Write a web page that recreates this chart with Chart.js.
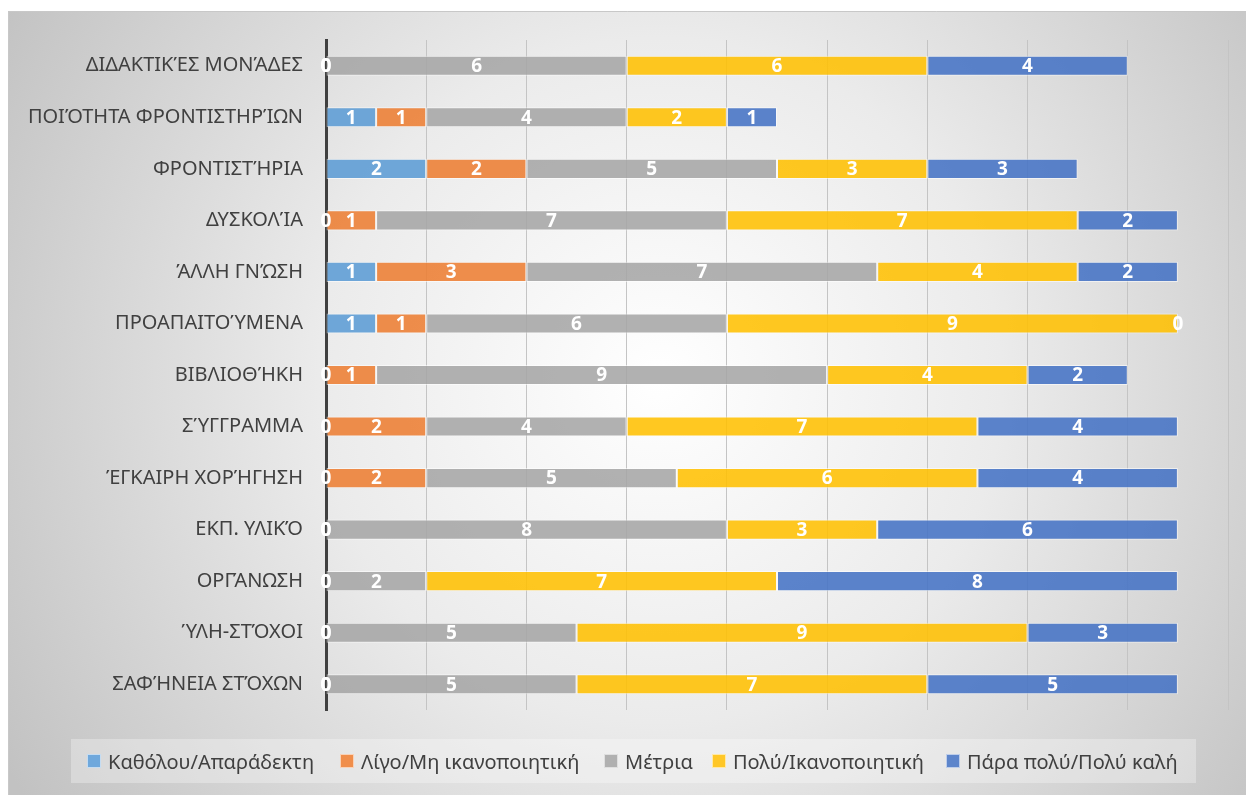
<!DOCTYPE html>
<html><head><meta charset="utf-8">
<script src="https://cdn.jsdelivr.net/npm/chart.js@4.4.1/dist/chart.umd.min.js"></script>
<style>
html,body{margin:0;padding:0;background:#fff;}
#wrap{position:relative;width:1246px;height:795px;overflow:hidden;}
#legend{position:absolute;left:71px;top:739px;width:1125px;height:44px;background:rgba(255,255,255,0.3);font-family:'Noto Sans';font-size:20px;color:#404040;white-space:nowrap}
.item{position:absolute;top:0;height:44px;display:flex;align-items:center}
.sw{width:12px;height:12px;margin-right:7px;border:1px solid rgba(255,255,255,0.6)}
</style></head>
<body><div id="wrap"><canvas id="c" width="1246" height="795"></canvas><div id="legend"></div></div>
<script>
const categories = ["ΔΙΔΑΚΤΙΚΈΣ ΜΟΝΆΔΕΣ","ΠΟΙΌΤΗΤΑ ΦΡΟΝΤΙΣΤΗΡΊΩΝ","ΦΡΟΝΤΙΣΤΉΡΙΑ","ΔΥΣΚΟΛΊΑ","ΆΛΛΗ ΓΝΏΣΗ","ΠΡΟΑΠΑΙΤΟΎΜΕΝΑ","ΒΙΒΛΙΟΘΉΚΗ","ΣΎΓΓΡΑΜΜΑ","ΈΓΚΑΙΡΗ ΧΟΡΉΓΗΣΗ","ΕΚΠ. ΥΛΙΚΌ","ΟΡΓΆΝΩΣΗ","ΎΛΗ-ΣΤΌΧΟΙ","ΣΑΦΉΝΕΙΑ ΣΤΌΧΩΝ"];
const seriesNames = ["Καθόλου/Απαράδεκτη","Λίγο/Μη ικανοποιητική","Μέτρια","Πολύ/Ικανοποιητική","Πάρα πολύ/Πολύ καλή"];
const katholou  = [0,1,2,0,1,1,0,0,0,0,0,0,0];
const ligo      = [0,1,2,1,3,1,1,2,2,0,0,0,0];
const metria    = [6,4,5,7,7,6,9,4,5,8,2,5,5];
const poly      = [6,2,3,7,4,9,4,7,6,3,7,9,7];
const parapoly  = [4,1,3,2,2,0,2,4,4,6,8,3,5];
const seriesColors = ["rgba(91,155,213,0.87)","rgba(237,125,49,0.87)","rgba(165,165,165,0.87)","rgba(255,192,0,0.87)","rgba(68,114,196,0.87)"];
const legendColors = ["#6fa8dc","#f08e4b","#b0b0b0","#ffc727","#5d85cb"];
const legendOffsets = [16, 269, 533, 641, 875];
const xMax = 18, xStep = 2;

const allSeries = [katholou, ligo, metria, poly, parapoly];

const bgPlugin = {
  id:'bg',
  beforeDraw(chart){
    const ctx = chart.ctx;
    ctx.save();
    ctx.fillStyle = '#ffffff';
    ctx.fillRect(0,0,chart.width,chart.height);
    const g = ctx.createRadialGradient(660,380,0,660,380,760);
    g.addColorStop(0,'#ffffff');
    g.addColorStop(0.45,'#ebebeb');
    g.addColorStop(1,'#c2c2c2');
    ctx.fillStyle = g;
    ctx.fillRect(8,11,chart.width-8,chart.height-11);
    ctx.strokeStyle = '#c8c8c8';
    ctx.lineWidth = 1;
    ctx.beginPath();
    ctx.moveTo(8.5,chart.height); ctx.lineTo(8.5,11.5); ctx.lineTo(chart.width,11.5);
    ctx.stroke();
    ctx.restore();
  }
};

const labelPlugin = {
  id:'vlabels',
  afterDatasetsDraw(chart){
    const ctx = chart.ctx;
    ctx.save();
    ctx.font = 'bold 19px "Noto Sans"';
    ctx.fillStyle = '#ffffff';
    ctx.textAlign = 'center';
    ctx.textBaseline = 'middle';
    chart.data.datasets.forEach((ds, di) => {
      const meta = chart.getDatasetMeta(di);
      meta.data.forEach((el, i) => {
        const v = ds.data[i];
        const cx = (el.x + el.base) / 2;
        ctx.fillText(String(v), cx, el.y + 1);
      });
    });
    ctx.restore();
  }
};

new Chart(document.getElementById('c'), {
  type:'bar',
  data:{
    labels: categories,
    datasets: seriesNames.map((n, i) => ({
      label: n,
      data: allSeries[i],
      backgroundColor: seriesColors[i],
      borderColor: 'rgba(255,255,255,0.55)',
      borderWidth: ctx => (ctx.raw === 0 ? 0 : 1),
      borderSkipped: false,
      categoryPercentage: 1,
      barPercentage: 0.39
    }))
  },
  options:{
    indexAxis:'y',
    responsive:false,
    animation:false,
    layout:{padding:{left:0,right:18,top:40,bottom:85}},
    plugins:{legend:{display:false},tooltip:{enabled:false}},
    scales:{
      x:{
        stacked:true, min:0, max:xMax,
        ticks:{display:false, stepSize:xStep},
        grid:{color:'#c4c4c4', lineWidth:1, drawTicks:false},
        border:{display:false},
        afterFit(s){ s.height = 0; }
      },
      y:{
        stacked:true,
        ticks:{font:{family:'Noto Sans', size:20}, color:'#404040', padding:23},
        grid:{display:false, drawTicks:false},
        border:{display:true, color:'#404040', width:3},
        afterFit(s){ s.width = 326; }
      }
    }
  },
  plugins:[bgPlugin, labelPlugin]
});

const leg = document.getElementById('legend');
seriesNames.forEach((n, i) => {
  const it = document.createElement('div'); it.className = 'item';
  it.style.left = legendOffsets[i] + 'px';
  const sw = document.createElement('div'); sw.className = 'sw'; sw.style.background = legendColors[i];
  const tx = document.createElement('span'); tx.textContent = n;
  it.appendChild(sw); it.appendChild(tx); leg.appendChild(it);
});
</script>
</body></html>
